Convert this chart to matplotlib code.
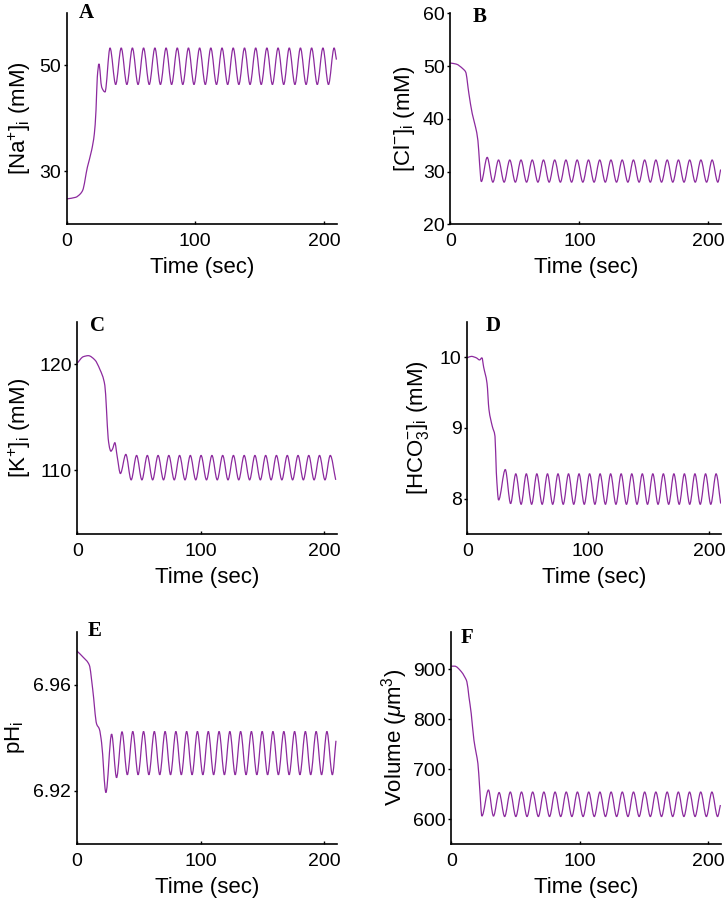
import matplotlib
matplotlib.use('Agg')
import matplotlib.pyplot as plt
import matplotlib.transforms as mtransforms
from matplotlib.path import Path
from matplotlib.patches import PathPatch

plt.rcParams['font.family'] = ['Liberation Sans', 'DejaVu Sans']
plt.rcParams['mathtext.fontset'] = 'custom'
plt.rcParams['mathtext.rm'] = 'Liberation Sans'
plt.rcParams['mathtext.it'] = 'Liberation Sans:italic'
plt.rcParams['mathtext.bf'] = 'Liberation Sans:bold'

# ---------------- data ----------------
# A: [Na+]i
na_t = [0, 7, 10.4, 12.4, 16.1, 19.4, 21.5, 22.8, 23.8, 25.1, 27.2, 29.8,
        33.7, 38.1, 42.4, 46.8, 51.1, 55.5, 59.8, 64.2, 68.6, 72.9, 77.3, 81.6,
        86.0, 90.3, 94.7, 99.0, 103.4, 107.8, 112.1, 116.5, 120.8, 125.2, 129.5,
        133.9, 138.3, 142.6, 147.0, 151.3, 155.7, 160.0, 164.4, 168.8, 173.1,
        177.5, 181.8, 186.2, 190.5, 194.9, 199.3, 203.6, 208.0, 209.8]
na_v = [24.8, 25.1, 25.7, 26.4, 30.8, 34.0, 37.1, 41.6, 47.8, 50.3, 45.9, 45.0,
        53.3, 46.4, 53.3, 46.4, 53.3, 46.4, 53.3, 46.4, 53.3, 46.4, 53.3, 46.4,
        53.3, 46.4, 53.3, 46.4, 53.3, 46.4, 53.3, 46.4, 53.3, 46.4, 53.3,
        46.4, 53.3, 46.4, 53.3, 46.4, 53.3, 46.4, 53.3, 46.4, 53.3,
        46.4, 53.3, 46.4, 53.3, 46.4, 53.3, 46.4, 53.3, 51.1]

# B: [Cl-]i
cl_t = [0, 4.6, 9.8, 11.9, 14.4, 17.0, 19.6, 21.4, 22.7, 24.0, 28.6,
        33.0, 37.4, 41.7, 46.1, 50.4, 54.8, 59.1, 63.5, 67.9, 72.2, 76.6, 80.9,
        85.3, 89.6, 94.0, 98.3, 102.7, 107.1, 111.4, 115.8, 120.1, 124.5, 128.8,
        133.2, 137.6, 141.9, 146.3, 150.6, 155.0, 159.3, 163.7, 168.1, 172.4,
        176.8, 181.1, 185.5, 189.8, 194.2, 198.6, 202.9, 207.3, 209.5]
cl_v = [50.6, 50.4, 49.5, 48.9, 44.8, 41.0, 38.4, 35.9, 31.5, 28.1, 32.7,
        28.0, 32.2, 28.0, 32.2, 28.0, 32.2, 28.0, 32.2, 28.0, 32.2, 28.0, 32.2,
        28.0, 32.2, 28.0, 32.2, 28.0, 32.2, 28.0, 32.2, 28.0, 32.2, 28.0,
        32.2, 28.0, 32.2, 28.0, 32.2, 28.0, 32.2, 28.0, 32.2, 28.0,
        32.2, 28.0, 32.2, 28.0, 32.2, 28.0, 32.2, 28.0, 30.4]

# C: [K+]i
k_t = [0, 4.8, 8.9, 14.2, 18.3, 22.3, 23.6, 25.0, 26.4, 27.2, 28.5, 30.4, 32.3,
       34.9, 39.3, 43.6, 48.0, 52.3, 56.7, 61.0, 65.4, 69.8, 74.1, 78.5, 82.8,
       87.2, 91.5, 95.9, 100.2, 104.6, 109.0, 113.3, 117.7, 122.0, 126.4, 130.7,
       135.1, 139.5, 143.8, 148.2, 152.5, 156.9, 161.2, 165.6, 170.0, 174.3,
       178.7, 183.0, 187.4, 191.7, 196.1, 200.5, 204.8, 209.2]
k_v = [120.1, 120.7, 120.8, 120.4, 119.5, 118.0, 115.8, 113.0, 112.0, 111.8, 112.0, 112.6, 111.3,
       109.7, 111.5, 109.1, 111.4, 109.1, 111.4, 109.1, 111.4, 109.1, 111.4, 109.1, 111.4,
       109.1, 111.4, 109.1, 111.4, 109.1, 111.4, 109.1, 111.4, 109.1, 111.4, 109.1,
       111.4, 109.1, 111.4, 109.1, 111.4, 109.1, 111.4, 109.1, 111.4, 109.1,
       111.4, 109.1, 111.4, 109.1, 111.4, 109.1, 111.4, 109.1]

# D: [HCO3-]i
hco3_t = [0, 3.3, 7.4, 10.2, 12.1, 13.5, 16.3, 17.9, 20.7, 22.9, 24.0, 25.9,
          31.4, 35.8, 40.1, 44.5, 48.8, 53.2, 57.5, 61.9, 66.3, 70.6, 75.0, 79.3,
          83.7, 88.0, 92.4, 96.7, 101.1, 105.5, 109.8, 114.2, 118.5, 122.9, 127.2,
          131.6, 136.0, 140.3, 144.7, 149.0, 153.4, 157.7, 162.1, 166.5, 170.8,
          175.2, 179.5, 183.9, 188.2, 192.6, 197.0, 201.3, 205.7, 209.5]
hco3_v = [9.99, 10.01, 9.99, 9.96, 9.99, 9.86, 9.63, 9.26, 9.02, 8.88, 8.37, 7.98,
          8.41, 7.93, 8.35, 7.92, 8.35, 7.92, 8.35, 7.92, 8.35, 7.92, 8.35, 7.92,
          8.35, 7.92, 8.35, 7.92, 8.35, 7.92, 8.35, 7.92, 8.35, 7.92, 8.35,
          7.92, 8.35, 7.92, 8.35, 7.92, 8.35, 7.92, 8.35, 7.92, 8.35,
          7.92, 8.35, 7.92, 8.35, 7.92, 8.35, 7.92, 8.35, 7.93]

# E: pHi
ph_t = [0, 5.4, 10.2, 12.9, 16.1, 18.3, 20.1, 23.6, 28.2,
        32.2, 36.6, 40.9, 45.3, 49.6, 54.0, 58.3, 62.7, 67.1, 71.4, 75.8, 80.1,
        84.5, 88.8, 93.2, 97.5, 101.9, 106.3, 110.6, 115.0, 119.3, 123.7, 128.0,
        132.4, 136.8, 141.1, 145.5, 149.8, 154.2, 158.5, 162.9, 167.3, 171.6,
        176.0, 180.3, 184.7, 189.0, 193.4, 197.8, 202.1, 206.5, 209.4]
ph_v = [6.9728, 6.9703, 6.9674, 6.9584, 6.9452, 6.9433, 6.9382, 6.9194, 6.9414,
        6.9250, 6.9423, 6.9261, 6.9424, 6.9261, 6.9424, 6.9261, 6.9424, 6.9261, 6.9424, 6.9261, 6.9424,
        6.9261, 6.9424, 6.9261, 6.9424, 6.9261, 6.9424, 6.9261, 6.9424, 6.9261, 6.9424, 6.9261,
        6.9424, 6.9261, 6.9424, 6.9261, 6.9424, 6.9261, 6.9424, 6.9261, 6.9424, 6.9261,
        6.9424, 6.9261, 6.9424, 6.9261, 6.9424, 6.9261, 6.9424, 6.9261, 6.9389]

# F: Volume
vol_t = [0, 2.6, 7.8, 10.3, 12.1, 13.7, 15.5, 17.6, 19.4, 20.7, 22.0, 23.8, 28.9,
         32.8, 37.2, 41.5, 45.9, 50.2, 54.6, 58.9, 63.3, 67.7, 72.0, 76.4, 80.7,
         85.1, 89.4, 93.8, 98.1, 102.5, 106.9, 111.2, 115.6, 119.9, 124.3, 128.6,
         133.0, 137.4, 141.7, 146.1, 150.4, 154.8, 159.1, 163.5, 167.9, 172.2,
         176.6, 180.9, 185.3, 189.6, 194.0, 198.4, 202.7, 207.1, 209.3]
vol_v = [906, 906, 895, 885, 875, 845, 811, 758, 731, 711, 665, 606, 658,
         606, 653, 605, 654, 605, 654, 605, 654, 605, 654, 605, 654,
         605, 654, 605, 654, 605, 654, 605, 654, 605, 654, 605,
         654, 605, 654, 605, 654, 605, 654, 605, 654, 605,
         654, 605, 654, 605, 654, 605, 654, 605, 628]

x_ticks = [0, 100, 200]
x_label = 'Time (sec)'

panels = [
    dict(box=(66.7, 336.7, 12.5, 224.3), t=na_t, v=na_v, ylim=(20, 60), yticks=[30, 50],
         ylabel='[Na$^{+}$]$_\\mathrm{i}$ (mM)', ylab_dx=-47, letter='A', lx=9.6, ly=0.972),
    dict(box=(450.3, 721.3, 13.5, 224.3), t=cl_t, v=cl_v, ylim=(20, 60), yticks=[20, 30, 40, 50, 60],
         ylabel='[Cl$^{-}$]$_\\mathrm{i}$ (mM)', ylab_dx=-46, letter='B', lx=17.6, ly=0.960),
    dict(box=(77.3, 336.7, 321.7, 534.0), t=k_t, v=k_v, ylim=(104, 124), yticks=[110, 120],
         ylabel='[K$^{+}$]$_\\mathrm{i}$ (mM)', ylab_dx=-58, letter='C', lx=10.3, ly=0.954),
    dict(box=(467.3, 721.3, 321.7, 534.0), t=hco3_t, v=hco3_v, ylim=(7.5, 10.5), yticks=[8, 9, 10],
         ylabel='[HCO$_3^{-}$]$_\\mathrm{i}$ (mM)', ylab_dx=-49, letter='D', lx=15.5, ly=0.954),
    dict(box=(76.7, 336.7, 631.7, 844.0), t=ph_t, v=ph_v, ylim=(6.90, 6.98), yticks=[6.92, 6.96],
         ylabel='pH$_\\mathrm{i}$', ylab_dx=-62, letter='E', lx=8.6, ly=0.978),
    dict(box=(451.3, 721.3, 631.7, 844.0), t=vol_t, v=vol_v, ylim=(550, 975), yticks=[600, 700, 800, 900],
         ylabel='Volume ($\\mu$m$^{3}$)', ylab_dx=-57, letter='F', lx=7.0, ly=0.947),
]


def smooth_path(t, v):
    """Smooth rendering (monotone cubic Hermite as Bezier path) through the read points."""
    n = len(t)
    h = [t[i + 1] - t[i] for i in range(n - 1)]
    d = [(v[i + 1] - v[i]) / h[i] for i in range(n - 1)]
    m = [0.0] * n
    m[0], m[-1] = d[0], d[-1]
    for i in range(1, n - 1):
        if d[i - 1] * d[i] <= 0:
            m[i] = 0.0
        else:
            w1 = 2 * h[i] + h[i - 1]
            w2 = h[i] + 2 * h[i - 1]
            m[i] = (w1 + w2) / (w1 / d[i - 1] + w2 / d[i])
    verts = [(t[0], v[0])]
    codes = [Path.MOVETO]
    for i in range(n - 1):
        verts += [(t[i] + h[i] / 3, v[i] + m[i] * h[i] / 3),
                  (t[i + 1] - h[i] / 3, v[i + 1] - m[i + 1] * h[i] / 3),
                  (t[i + 1], v[i + 1])]
        codes += [Path.CURVE4] * 3
    return Path(verts, codes)


W, H = 726, 900
fig = plt.figure(figsize=(W / 100, H / 100), dpi=100)
line_color = '#8C2A9E'
tick_fs = 14
label_fs = 16

for p in panels:
    l, r, top, bot = p['box']
    ax = fig.add_axes([l / W, 1 - bot / H, (r - l) / W, (bot - top) / H])
    ax.add_patch(PathPatch(smooth_path(p['t'], p['v']), facecolor='none',
                           edgecolor=line_color, lw=0.9))
    ax.set_xlim(0, 210)
    ax.set_ylim(*p['ylim'])
    ax.set_xticks(x_ticks)
    ax.set_yticks(p['yticks'])
    ax.set_yticklabels([('%g' % y) for y in p['yticks']])
    for s in ['top', 'right']:
        ax.spines[s].set_visible(False)
    for s in ['left', 'bottom']:
        ax.spines[s].set_linewidth(1.2)
    ax.tick_params(axis='x', direction='in', length=2.5, width=1.0, labelsize=tick_fs, pad=6.5)
    ax.tick_params(axis='y', direction='out', length=2.5, width=1.0, labelsize=tick_fs, pad=1.5)
    ax.set_xlabel(x_label, fontsize=label_fs, va='center')
    ax.xaxis.set_label_coords(0.5, -43 / (bot - top))
    ax.set_ylabel(p['ylabel'], fontsize=label_fs, va='center')
    ax.yaxis.set_label_coords(p['ylab_dx'] / (r - l), 0.5)
    trans = mtransforms.blended_transform_factory(ax.transData, ax.transAxes)
    ax.text(p['lx'], p['ly'], p['letter'], transform=trans, ha='left', va='baseline',
            fontsize=15, fontweight='bold', family=['Liberation Serif', 'DejaVu Serif'])

fig.savefig('out.png', dpi=100)
